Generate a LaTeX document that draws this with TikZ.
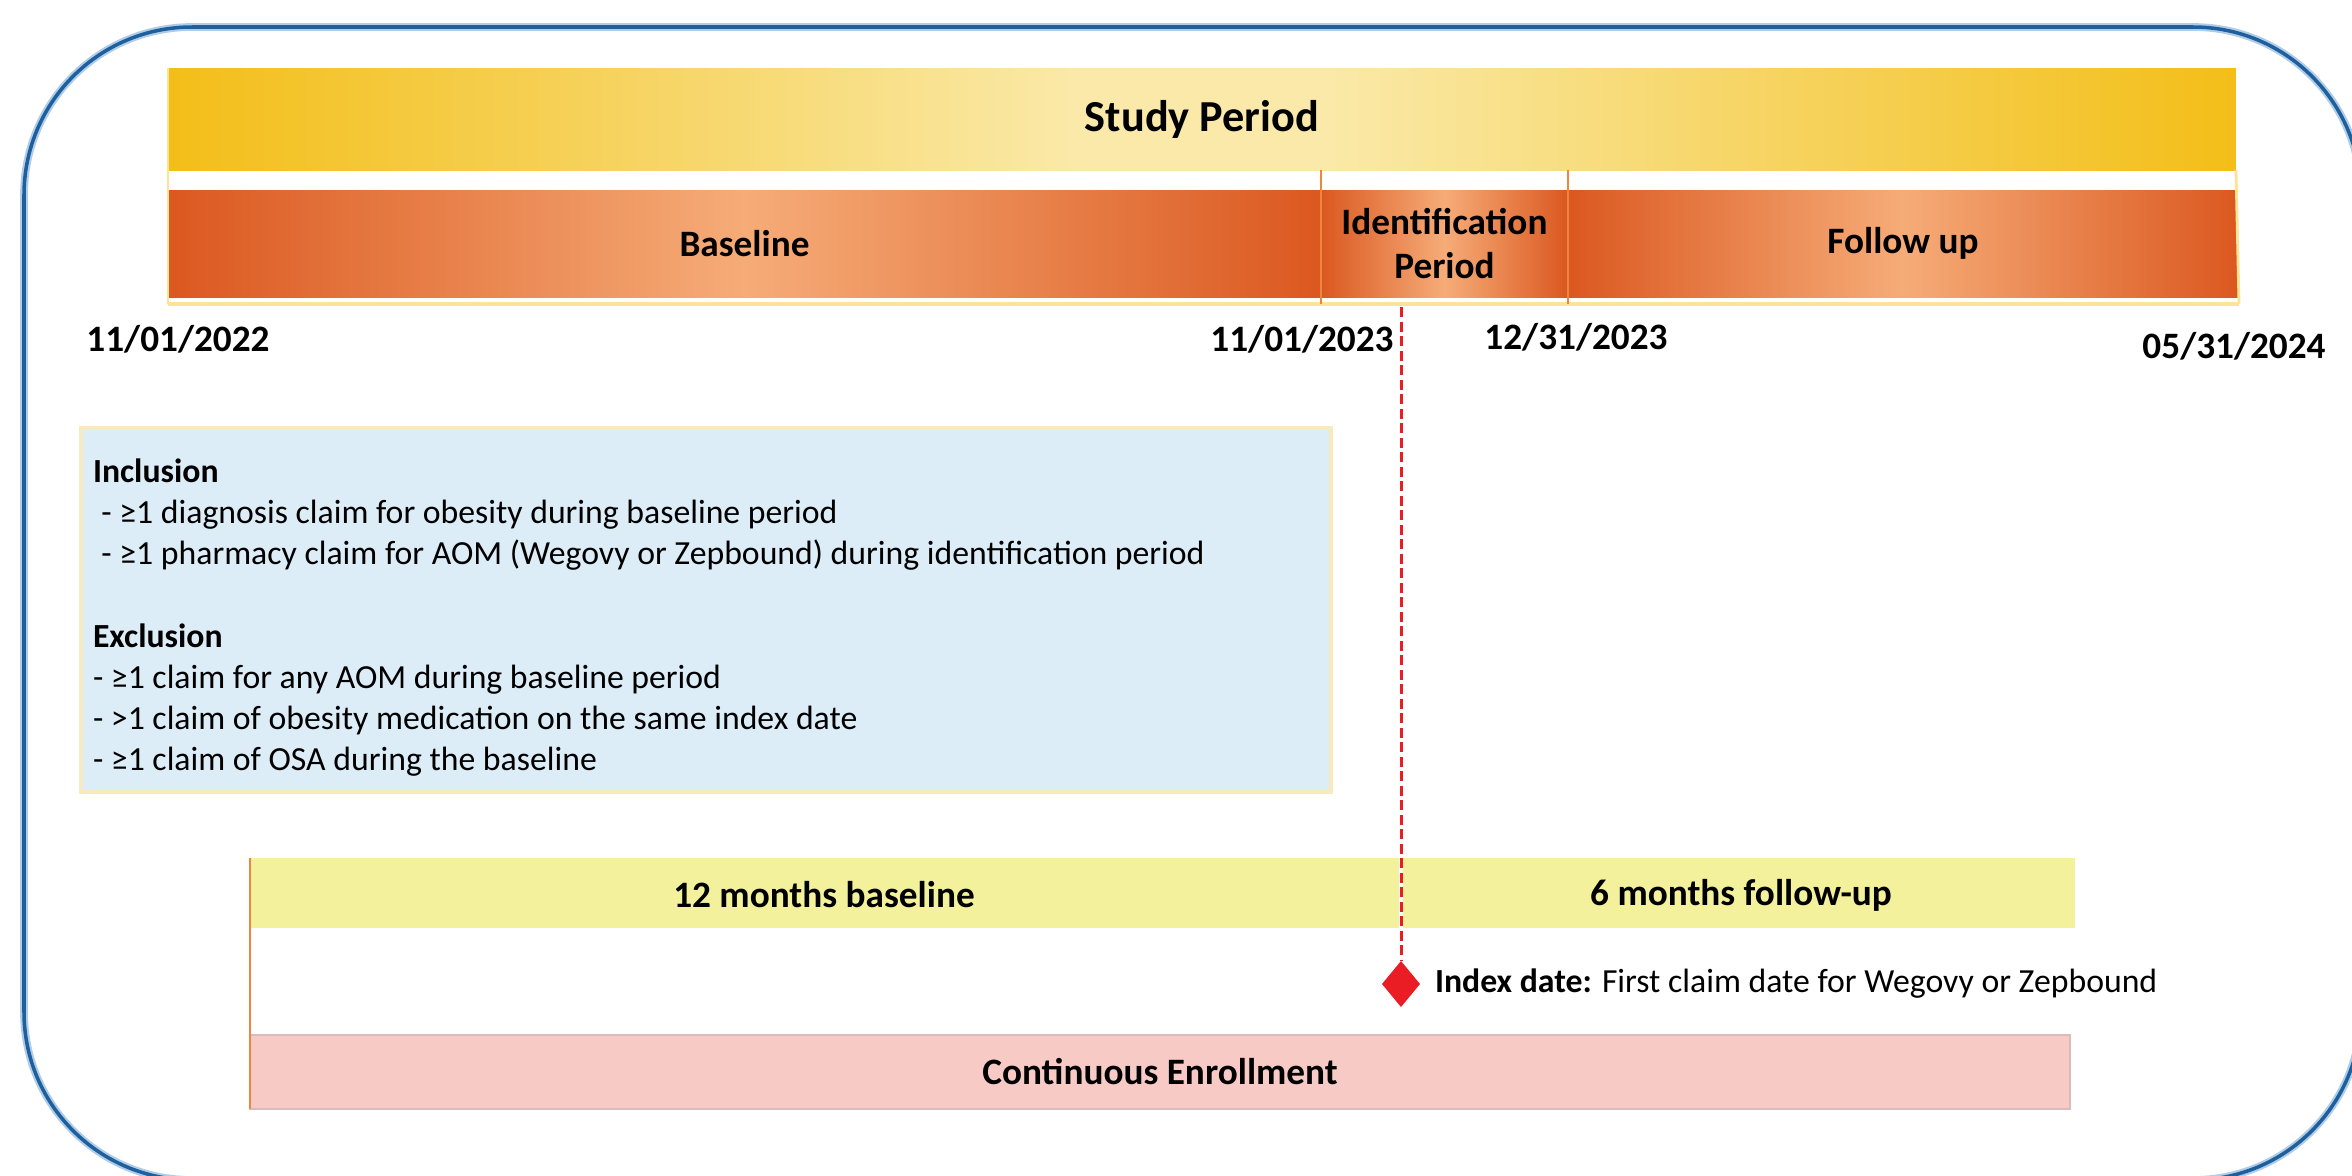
\documentclass[tikz,border=0pt]{standalone}
\usepackage{fontspec}
\setmainfont{Carlito}
\usepackage{tikz}
\usetikzlibrary{positioning, shapes.geometric}

\definecolor{frameblue}{RGB}{30,96,158}
\definecolor{framehalo}{RGB}{176,204,230}
\definecolor{goldy}{RGB}{243,190,24}
\definecolor{paleyel}{RGB}{250,233,168}
\definecolor{darkor}{RGB}{219,88,32}
\definecolor{lightor}{RGB}{246,172,120}
\definecolor{tickor}{RGB}{238,134,64}
\definecolor{axisyel}{RGB}{252,228,150}
\definecolor{boxblue}{RGB}{221,237,248}
\definecolor{boxedge}{RGB}{246,234,190}
\definecolor{barylw}{RGB}{243,241,155}
\definecolor{enrpink}{RGB}{248,202,198}
\definecolor{enredge}{RGB}{218,186,186}
\definecolor{idxred}{RGB}{234,28,36}

\pgfdeclarehorizontalshading{studyshade}{100bp}{color(0bp)=(goldy); color(25bp)=(goldy); color(47bp)=(paleyel); color(53bp)=(paleyel); color(75bp)=(goldy); color(100bp)=(goldy)}
\pgfdeclarehorizontalshading{phaseshade}{100bp}{color(0bp)=(darkor); color(25bp)=(darkor); color(50bp)=(lightor); color(75bp)=(darkor); color(100bp)=(darkor)}

\begin{document}
\begin{tikzpicture}[x=0.1mm, y=-0.1mm]
  \tikzstyle{every node}=[inner sep=0pt, outer sep=0pt]
  \tikzstyle{bold label}=[font=\fontsize{10.6}{12.7}\selectfont\bfseries]
  \tikzstyle{bar}=[anchor=north west]
  \tikzstyle{phase}=[bar, shade, shading=phaseshade, minimum height=10.7mm, align=center, bold label]
  \tikzstyle{tick}=[tickor, line width=0.6pt]

  \useasboundingbox (0,0) rectangle (2352,1176);
  \clip (0,0) rectangle (2352,1176);

  % outer frame
  \draw[framehalo, line width=2.2pt, rounded corners=16.8mm] (24,27) rectangle (2361,1180);
  \draw[frameblue, line width=1pt, rounded corners=16.8mm] (24,27) rectangle (2361,1180);

  % study period and phases
  \node[bar, shade, shading=studyshade, minimum width=206.8mm, minimum height=10.2mm,
        font=\fontsize{12.6}{15}\selectfont\bfseries] (study) at (168,68) {Study Period};
  \node[phase, minimum width=115.3mm] (base_seg) at (168,190) {Baseline};
  \node[phase, minimum width=24.7mm, right=0pt of base_seg] (idnt_seg) {Identification\\Period};
  \node[phase, minimum width=67mm, right=0pt of idnt_seg] (fup_seg) {Follow up};

  \coordinate (ax_l) at (168,304);
  \coordinate (ax_r) at (2239,304);
  \draw[axisyel, line width=1.2pt] (ax_l) -- (ax_r);
  \draw[axisyel, line width=0.8pt] (study.north west) -- (ax_l);
  \draw[axisyel, line width=0.8pt] (study.south east) -- (ax_r);
  \draw[tick] (study.south -| idnt_seg.west) -- (ax_l -| idnt_seg.west);
  \draw[tick] (study.south -| fup_seg.west) -- (ax_l -| fup_seg.west);

  % dates
  \node[bold label] (d_0) at (178,339) {11/01/2022};
  \node[bold label] (d_1) at (1302,339) {11/01/2023};
  \node[bold label] (d_2) at (1576,337) {12/31/2023};
  \node[bold label] (d_3) at (2234,346) {05/31/2024};

  % criteria
  \node[bar, fill=boxblue, draw=boxedge, line width=1pt, minimum width=125mm, minimum height=36.4mm] (criteria) at (81,428) {};
  \node[anchor=north west, align=left, font=\fontsize{9.6}{11.7}\selectfont] (crit_txt) at (93,459) {%
    \textbf{Inclusion}\\
    \hspace{0.25em}- ≥1 diagnosis claim for obesity during baseline period\\
    \hspace{0.25em}- ≥1 pharmacy claim for AOM (Wegovy or Zepbound) during identification period\\[11.7pt]
    \textbf{Exclusion}\\
    - ≥1 claim for any AOM during baseline period\\
    - >1 claim of obesity medication on the same index date\\
    - ≥1 claim of OSA during the baseline};

  % patient windows
  \node[bar, fill=barylw, minimum width=182.5mm, minimum height=7mm] (window) at (250,858) {};
  \node[bold label] (bl_lbl) at (824,895) {12 months baseline};
  \node[bold label] (fu_lbl) at (1741,895) {6 months follow-up};
  \node[bar, fill=enrpink, draw=enredge, line width=0.8pt, minimum width=182mm, minimum height=7.4mm,
        bold label] (enroll) at (250,1035) {Continuous Enrollment};
  \draw[tick] (window.north west) -- (enroll.south west);

  % index date
  \node[diamond, fill=idxred, minimum width=3.8mm, minimum height=4.6mm] (idx) at (1401,984) {};
  \coordinate (idx_top) at (1401,307);
  \draw[white, line width=1pt] (idx_top) -- (idx);
  \draw[idxred, line width=0.85pt, dash pattern=on 1mm off 0.45mm] (idx_top) -- (idx);
  \node[anchor=west, right=1.5mm of idx, font=\fontsize{9.6}{11.5}\selectfont] (idx_lbl)
    {\textbf{Index date:} First claim date for Wegovy or Zepbound};
\end{tikzpicture}
\end{document}
